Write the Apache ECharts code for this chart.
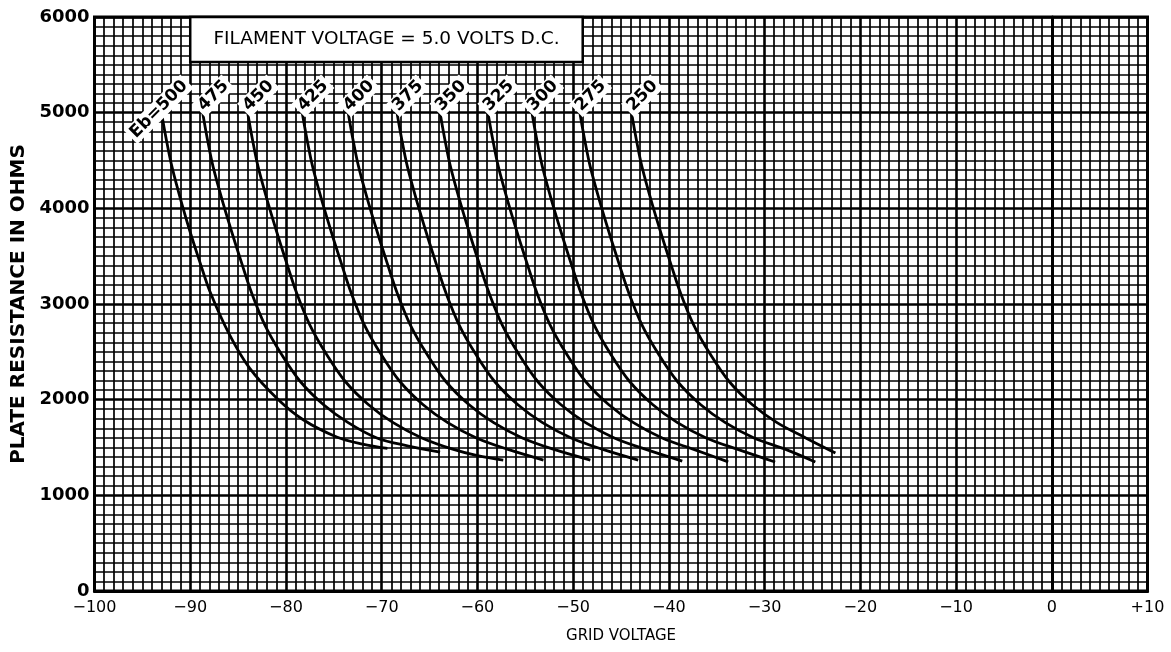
<!DOCTYPE html>
<html>
<head>
<meta charset="utf-8">
<script src="https://cdn.jsdelivr.net/npm/echarts@6/dist/echarts.min.js"></script>
<style>
  html, body { margin: 0; padding: 0; background: #fff; }
  #chart { width: 1171px; height: 652px; }
</style>
</head>
<body>
<div id="chart"></div>
<script>
// Plate resistance (ohms) against grid voltage, one curve per plate voltage Eb.
const curveNames = ['Eb=500', '475', '450', '425', '400', '375', '350', '325', '300', '275', '250'];

const eb500 = [[-93.0,5000],[-92.5,4720],[-91.9,4430],[-90.8,4020],[-90.0,3750],[-89.0,3440],[-87.9,3120],[-85.9,2680],[-83.8,2330],[-80.9,2010],[-78.2,1790],[-74.7,1610],[-72.0,1535],[-69.4,1490]];
const eb475 = [[-88.7,5000],[-88.2,4720],[-87.6,4430],[-86.5,4030],[-85.5,3700],[-84.6,3420],[-83.6,3120],[-82.2,2780],[-80.5,2480],[-78.5,2190],[-76.1,1950],[-73.5,1760],[-70.5,1600],[-67.2,1515],[-63.9,1452]];
const eb450 = [[-84.0,5000],[-83.5,4720],[-82.9,4430],[-81.8,4030],[-80.8,3700],[-79.9,3420],[-78.9,3120],[-77.5,2780],[-75.8,2480],[-73.8,2190],[-71.4,1950],[-68.8,1760],[-65.8,1600],[-62.5,1480],[-60.0,1415],[-57.3,1369]];
const eb425 = [[-78.3,5000],[-77.8,4720],[-77.2,4430],[-76.1,4030],[-75.1,3700],[-74.2,3420],[-73.2,3120],[-71.8,2780],[-70.1,2480],[-68.1,2190],[-65.7,1950],[-63.1,1760],[-60.1,1600],[-56.8,1480],[-53.1,1369]];
const eb400 = [[-73.5,5000],[-73.0,4720],[-72.4,4430],[-71.3,4030],[-70.3,3700],[-69.4,3420],[-68.4,3120],[-67.0,2780],[-65.3,2480],[-63.3,2190],[-60.9,1950],[-58.3,1760],[-55.3,1600],[-52.0,1480],[-48.2,1369]];
const eb375 = [[-68.4,5000],[-67.9,4720],[-67.3,4430],[-66.2,4030],[-65.2,3700],[-64.3,3420],[-63.3,3120],[-61.9,2780],[-60.2,2480],[-58.2,2190],[-55.8,1950],[-53.2,1760],[-50.2,1600],[-46.9,1480],[-43.2,1369]];
const eb350 = [[-63.9,5000],[-63.4,4720],[-62.8,4430],[-61.7,4030],[-60.7,3700],[-59.8,3420],[-58.8,3120],[-57.4,2780],[-55.7,2480],[-53.7,2190],[-51.3,1950],[-48.7,1760],[-45.7,1600],[-42.4,1480],[-38.6,1358]];
const eb325 = [[-58.9,5000],[-58.4,4720],[-57.8,4430],[-56.7,4030],[-55.7,3700],[-54.8,3420],[-53.8,3120],[-52.4,2780],[-50.7,2480],[-48.7,2190],[-46.3,1950],[-43.7,1760],[-40.7,1600],[-37.4,1480],[-33.8,1350]];
const eb300 = [[-54.3,5000],[-53.8,4720],[-53.2,4430],[-52.1,4030],[-51.1,3700],[-50.2,3420],[-49.2,3120],[-47.8,2780],[-46.1,2480],[-44.1,2190],[-41.7,1950],[-39.1,1760],[-36.1,1600],[-32.8,1480],[-28.9,1348]];
const eb275 = [[-49.3,5000],[-48.8,4720],[-48.2,4430],[-47.1,4030],[-46.1,3700],[-45.2,3420],[-44.2,3120],[-42.8,2780],[-41.1,2480],[-39.1,2190],[-36.7,1950],[-34.1,1760],[-31.1,1600],[-27.8,1480],[-24.7,1348]];
const eb250 = [[-43.9,5000],[-43.4,4720],[-42.8,4430],[-41.7,4030],[-40.7,3700],[-39.8,3420],[-38.8,3120],[-37.4,2780],[-35.7,2480],[-33.7,2190],[-31.3,1950],[-28.7,1760],[-25.7,1600],[-22.6,1442]];

const curveData = [eb500, eb475, eb450, eb425, eb400, eb375, eb350, eb325, eb300, eb275, eb250];

const xMin = -100, xMax = 10, xStep = 10;
const yMin = 0, yMax = 6000, yStep = 1000;
const noteText = 'FILAMENT VOLTAGE = 5.0 VOLTS D.C.';

const FONT = 'DejaVu Sans';
const INK = '#000';

function fmtX(v) {
  if (v > 0) return '+' + v;
  if (v < 0) return '\u2212' + (-v);
  return '0';
}

const series = curveData.map((pts, k) => ({
  type: 'line',
  name: curveNames[k],
  smooth: 0.35,
  showSymbol: true,
  symbol: 'none',
  lineStyle: { color: INK, width: 2.8 },
  z: 5,
  data: pts.map((p, i) => i === 0 ? {
    value: p,
    symbol: 'circle',
    symbolSize: 1,
    itemStyle: { color: INK },
    label: {
      show: true,
      formatter: curveNames[k],
      position: [26, -31],
      align: 'right',
      verticalAlign: 'middle',
      rotate: 45,
      color: INK,
      fontFamily: FONT,
      fontWeight: 'bold',
      fontSize: 17,
      backgroundColor: '#fff',
      padding: [1, 3]
    }
  } : { value: p }),
  markArea: k === 0 ? {
    silent: true,
    itemStyle: { color: '#fff', borderColor: INK, borderWidth: 2.5 },
    label: {
      show: true,
      position: 'inside',
      color: INK,
      fontFamily: FONT,
      fontSize: 18.5,
      formatter: noteText
    },
    data: [[{ xAxis: -90, yAxis: 6000 }, { xAxis: -49, yAxis: 5530 }]]
  } : undefined
}));

const chart = echarts.init(document.getElementById('chart'), null, { renderer: 'canvas' });
chart.setOption({
  animation: false,
  backgroundColor: '#fff',
  grid: {
    left: 94.5, right: 23.5, top: 17, bottom: 61,
    outerBoundsMode: 'none',
    containLabel: false,
    show: true, borderColor: INK, borderWidth: 3, backgroundColor: '#fff'
  },
  xAxis: {
    type: 'value',
    min: xMin, max: xMax, interval: xStep,
    name: 'GRID VOLTAGE',
    nameLocation: 'middle',
    nameGap: 38,
    nameTextStyle: { fontFamily: FONT, fontSize: 15, color: INK },
    axisLine: { show: true, onZero: false, lineStyle: { color: INK, width: 3 } },
    axisTick: { show: false },
    minorTick: { show: false, splitNumber: 10 },
    axisLabel: { formatter: fmtX, fontFamily: FONT, fontSize: 16, color: INK, margin: 9 },
    splitLine: { show: true, lineStyle: { color: INK, width: 2.6 } },
    minorSplitLine: { show: true, lineStyle: { color: INK, width: 1.7 } }
  },
  yAxis: {
    type: 'value',
    min: yMin, max: yMax, interval: yStep,
    name: 'PLATE RESISTANCE IN OHMS',
    nameLocation: 'middle',
    nameGap: 66,
    nameTextStyle: { fontFamily: FONT, fontSize: 20, fontWeight: 'bold', color: INK },
    axisLine: { show: true, lineStyle: { color: INK, width: 3 } },
    axisTick: { show: false },
    minorTick: { show: false, splitNumber: 10 },
    axisLabel: { formatter: v => String(v), fontFamily: FONT, fontSize: 18, fontWeight: 'bold', color: INK, margin: 5 },
    splitLine: { show: true, lineStyle: { color: INK, width: 2.6 } },
    minorSplitLine: { show: true, lineStyle: { color: INK, width: 1.7 } }
  },
  series: series
});
</script>
</body>
</html>
